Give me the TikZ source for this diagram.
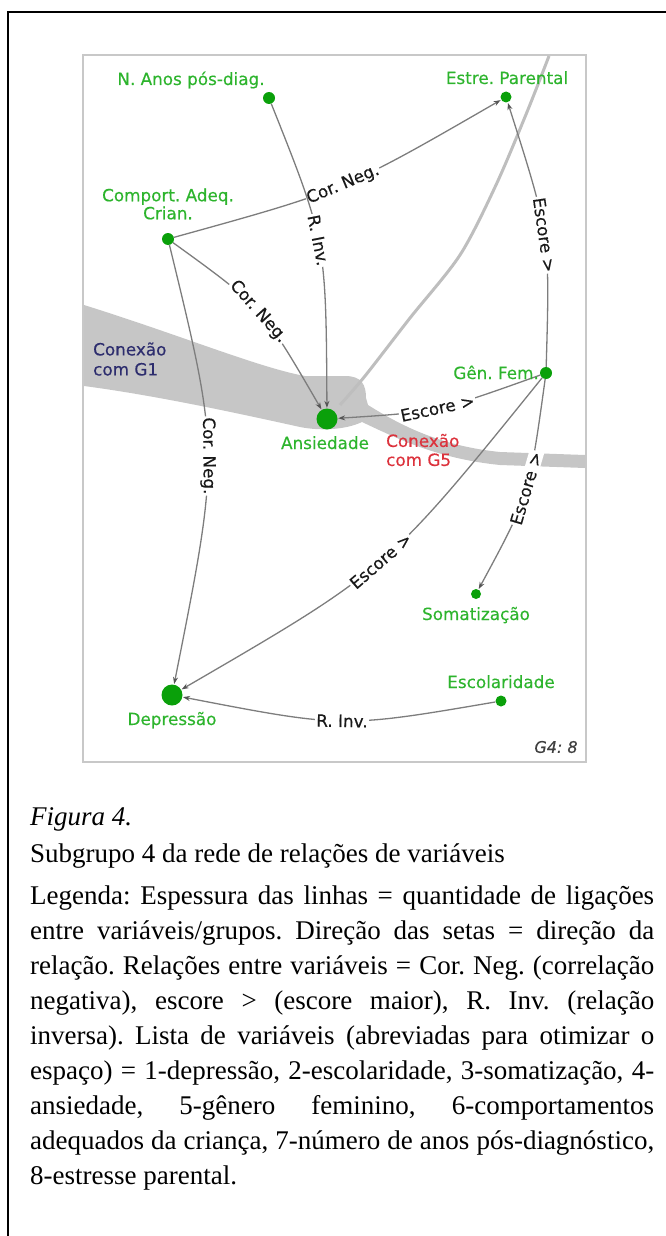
\documentclass[tikz,border=0pt]{standalone}
\usepackage{fontspec}
\setmainfont{Liberation Serif}
\newfontfamily\dvfont[FakeBold=0.35]{DejaVu Sans}
\usetikzlibrary{arrows.meta}
\definecolor{lblgreen}{RGB}{45,180,45}
\definecolor{dotgreen}{RGB}{10,160,10}
\definecolor{edgegray}{RGB}{125,125,125}
\definecolor{tipgray}{RGB}{85,85,85}
\definecolor{bandgray}{RGB}{198,198,198}
\definecolor{arcgray}{RGB}{190,190,190}
\definecolor{boxgray}{RGB}{200,200,200}
\definecolor{g1blue}{RGB}{45,45,110}
\definecolor{g5red}{RGB}{220,50,60}
\definecolor{elabcol}{RGB}{25,25,25}
\begin{document}
\frenchspacing
\begin{tikzpicture}[x=1pt,y=-1pt,
  dotnode/.style={circle,fill=dotgreen,inner sep=0pt,minimum size=#1},
  vlabel/.style={text=lblgreen,font=\dvfont\fontsize{16.8}{18}\selectfont,inner sep=0pt,align=center},
  grplabel/.style={font=\dvfont\fontsize{16.8}{20}\selectfont,inner sep=0pt,align=left,anchor=west},
  elabel/.style={sloped,fill=white,text=elabcol,font=\dvfont\fontsize{16.8}{18}\selectfont,inner sep=1.2pt},
  edge/.style={draw=edgegray,line width=1.3pt,-{Stealth[length=7pt,width=5pt,color=tipgray]},shorten >=0.5pt},
  captext/.style={anchor=base west,inner sep=0pt,font=\fontsize{27}{32}\selectfont}
]
\useasboundingbox (0,0) rectangle (666,1236);
% outer frame lines
\draw[line width=2.5pt,black] (666,12) -- (8,12) -- (8,1236);
% inner diagram box
\draw[boxgray,line width=2pt] (83,55) rectangle (586,762);
% gray band (connection with groups)
\fill[bandgray] (84,305) .. controls (180,335) and (260,368) .. (305,376)
  -- (345,376) .. controls (362,376) and (366,385) .. (366,398)
  -- (368,405) .. controls (400,425) and (440,446) .. (500,452)
  -- (585,455) -- (585,468) -- (500,465)
  .. controls (440,459) and (400,440) .. (362,422)
  .. controls (345,430) and (320,431) .. (300,427)
  .. controls (250,416) and (160,396) .. (84,386) -- cycle;
% arc from outside group
\coordinate (arcstart) at (549,56);
\draw[arcgray,line width=3pt] plot[smooth] coordinates {(arcstart) (527,112) (496,185) (460,255) (410,318) (365,376) (340,405)};
% dots
\node[dotnode=12pt] (nanos) at (269,98) {};
\node[dotnode=11pt] (estre) at (506,97) {};
\node[dotnode=12pt] (comport) at (168,239) {};
\node[dotnode=12pt] (gen) at (546,373) {};
\node[dotnode=21pt] (anx) at (327,419) {};
\node[dotnode=10pt] (soma) at (476,594) {};
\node[dotnode=11pt] (escol) at (501,701) {};
\node[dotnode=21pt] (dep) at (172,695) {};
% edges
\draw[edge] (comport) .. controls (345,190) .. (estre) node[elabel,pos=.5] (l1) {Cor. Neg.};
\draw[edge] (nanos) .. controls (326,241) .. (anx) node[elabel,pos=.48] (l2) {R. Inv.};
\draw[edge] (comport) .. controls (262,307) .. (anx) node[elabel,pos=.5] (l3) {Cor. Neg.};
\draw[edge] (gen) .. controls (550,235) .. (estre) node[elabel,pos=.5] (l4) {Escore >};
\draw[edge] (gen) .. controls (437,412) .. (anx) node[elabel,pos=.5] (l5) {Escore >};
\draw[edge] (gen) .. controls (387,570) .. (dep) node[elabel,pos=.5] (l6) {Escore >};
\draw[edge] (gen) .. controls (529,496) .. (soma) node[elabel,pos=.47] (l7) {Escore >};
\draw[edge] (comport) .. controls (220,453) .. (dep) node[elabel,pos=.5] (l8) {Cor. Neg.};
\draw[edge] (escol) .. controls (343,728) .. (dep) node[elabel,pos=.5] (l9) {R. Inv.};
% node labels
\node[vlabel,anchor=base] (tnanos) at (191,85) {N. Anos pós-diag.};
\node[vlabel,anchor=base] (testre) at (507,84) {Estre. Parental};
\node[vlabel,anchor=center] (tcomport) at (168,204) {Comport. Adeq.\\Crian.};
\node[vlabel,anchor=base east] (tgen) at (539,379) {Gên. Fem.};
\node[vlabel,anchor=base] (tanx) at (325,449) {Ansiedade};
\node[vlabel,anchor=base] (tsoma) at (476,620) {Somatização};
\node[vlabel,anchor=base] (tescol) at (501,688) {Escolaridade};
\node[vlabel,anchor=base] (tdep) at (172,725) {Depressão};
\node[grplabel,text=g1blue] (g1) at (93,359) {Conexão\\com G1};
\node[grplabel,text=g5red,font=\dvfont\fontsize{16.8}{19}\selectfont] (g5) at (386,450) {Conexão\\com G5};
\node[inner sep=0pt,text=black!75,font=\dvfont\itshape\fontsize{16}{18}\selectfont] (g4) at (556,747) {G4: 8};
% caption
\node[captext,font=\itshape\fontsize{27}{32}\selectfont] (fig) at (30,825) {Figura 4.};
\node[captext] (sub) at (30,862) {Subgrupo 4 da rede de relações de variáveis};
\node[captext] (c1) at (30,904) {\makebox[624pt][s]{Legenda: Espessura das linhas = quantidade de ligações}};
\node[captext] (c2) at (30,939) {\makebox[624pt][s]{entre variáveis/grupos. Direção das setas = direção da}};
\node[captext] (c3) at (30,974) {\makebox[624pt][s]{relação. Relações entre variáveis = Cor. Neg. (correlação}};
\node[captext] (c4) at (30,1009) {\makebox[624pt][s]{negativa), escore > (escore maior), R. Inv. (relação}};
\node[captext] (c5) at (30,1044) {\makebox[624pt][s]{inversa). Lista de variáveis (abreviadas para otimizar o}};
\node[captext] (c6) at (30,1079) {\makebox[624pt][s]{espaço) = 1-depressão, 2-escolaridade, 3-somatização, 4-}};
\node[captext] (c7) at (30,1114) {\makebox[624pt][s]{ansiedade, 5-gênero feminino, 6-comportamentos}};
\node[captext] (c8) at (30,1149) {\makebox[624pt][s]{adequados da criança, 7-número de anos pós-diagnóstico,}};
\node[captext] (c9) at (30,1184) {8-estresse parental.};
\end{tikzpicture}
\end{document}
